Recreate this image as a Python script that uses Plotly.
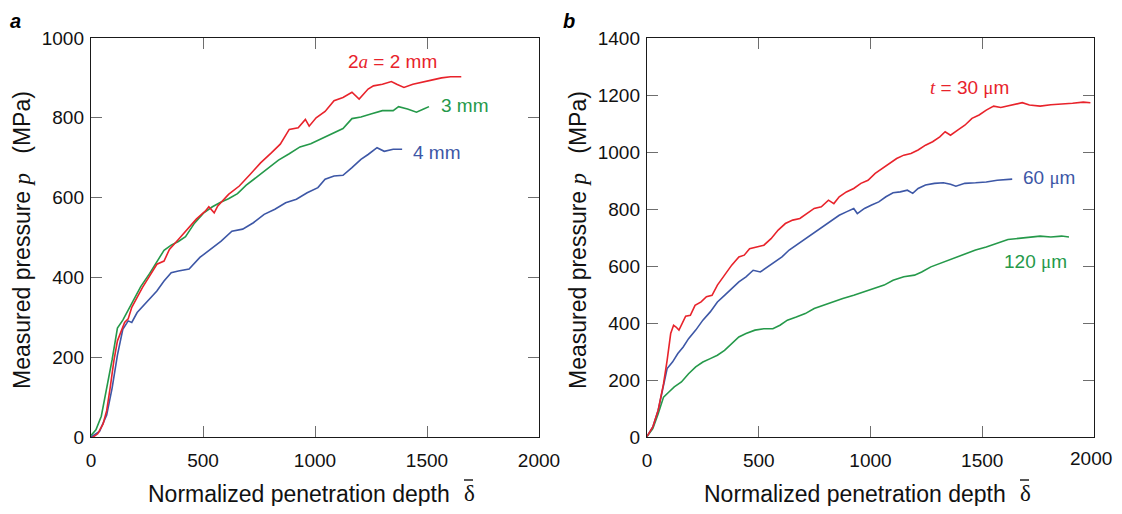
import plotly.graph_objects as go

# ---------------- Data ----------------
# Panel a: indenter diameter 2a
a2mm_x = [0, 30, 54, 70, 86, 102, 118, 134, 150, 166, 182, 206, 230, 262, 294, 326, 350, 390, 422, 470,
          510, 526, 550, 566, 614, 662, 710, 757, 805, 845, 885, 925, 957, 974, 1005, 1045, 1085, 1125,
          1165, 1197, 1237, 1261, 1301, 1341, 1365, 1397, 1437, 1485, 1525, 1565, 1605, 1653]
a2mm_y = [-4, 8, 33, 66, 125, 191, 241, 266, 287, 296, 325, 350, 375, 404, 433, 441, 470, 495, 516, 546,
          566, 577, 562, 579, 608, 629, 658, 687, 712, 734, 771, 775, 796, 779, 800, 816, 843, 851,
          864, 847, 872, 880, 884, 891, 884, 876, 884, 889, 895, 900, 903, 903]

a3mm_x = [0, 22, 46, 70, 94, 118, 142, 166, 190, 222, 262, 294, 326, 358, 390, 422, 462, 502, 542, 581,
          614, 654, 693, 741, 789, 837, 885, 933, 981, 1029, 1077, 1125, 1165, 1205, 1253, 1301, 1349,
          1373, 1413, 1453, 1485, 1509]
a3mm_y = [4, 18, 52, 118, 193, 273, 293, 318, 343, 377, 410, 439, 468, 481, 490, 502, 536, 561, 577, 589,
          597, 610, 631, 652, 673, 694, 710, 727, 735, 748, 760, 773, 798, 802, 810, 818, 818,
          828, 822, 814, 822, 828]

a4mm_x = [0, 38, 70, 94, 118, 142, 166, 182, 206, 246, 294, 326, 358, 390, 438, 486, 534, 581, 629, 677,
          725, 773, 821, 869, 917, 965, 1013, 1045, 1085, 1125, 1165, 1205, 1237, 1277, 1309, 1349, 1389]
a4mm_y = [0, 14, 55, 122, 205, 270, 291, 287, 312, 337, 366, 391, 412, 416, 421, 450, 471, 491, 516, 521,
          537, 558, 571, 587, 596, 612, 625, 646, 654, 656, 675, 696, 708, 725, 716, 721, 721]

# Panel b: film thickness t
b30_x = [0, 26, 50, 74, 90, 106, 119, 130, 143, 157, 173, 194, 215, 242, 266, 291, 315, 347, 379, 411,
         435, 459, 491, 523, 555, 587, 619, 652, 684, 716, 748, 780, 812, 836, 860, 892, 925, 957, 989,
         1021, 1053, 1085, 1117, 1149, 1181, 1213, 1246, 1278, 1310, 1334, 1358, 1390, 1422, 1454, 1486,
         1518, 1551, 1583, 1631, 1679, 1711, 1759, 1807, 1855, 1904, 1952, 1984]
b30_y = [2, 35, 94, 187, 269, 363, 392, 386, 375, 398, 424, 427, 462, 474, 492, 497, 533, 568, 603, 632,
         638, 661, 667, 673, 696, 726, 749, 761, 767, 784, 802, 808, 831, 819, 843, 860, 872, 890, 901,
         925, 942, 960, 977, 989, 995, 1007, 1024, 1036, 1053, 1071, 1059, 1077, 1094, 1118, 1130,
         1147, 1161, 1156, 1165, 1173, 1165, 1161, 1166, 1168, 1171, 1175, 1173]

b60_x = [0, 26, 50, 74, 90, 114, 138, 162, 186, 218, 250, 283, 315, 347, 379, 411, 443, 475, 507, 539,
         571, 604, 636, 668, 700, 732, 764, 796, 828, 860, 892, 925, 941, 973, 1005, 1037, 1069, 1101,
         1133, 1165, 1189, 1213, 1246, 1286, 1326, 1358, 1382, 1422, 1470, 1518, 1567, 1634]
b60_y = [2, 35, 94, 187, 240, 263, 293, 316, 345, 375, 410, 439, 474, 497, 521, 544, 562, 585, 579, 597,
         615, 632, 656, 673, 691, 708, 726, 743, 761, 778, 790, 802, 784, 802, 814, 825, 843, 857,
         860, 866, 855, 872, 884, 890, 892, 887, 880, 890, 892, 895, 901, 905]

b120_x = [0, 26, 50, 74, 98, 122, 154, 186, 218, 250, 283, 315, 347, 379, 411, 443, 483, 523, 563, 595,
          628, 668, 708, 748, 788, 828, 876, 925, 973, 1021, 1061, 1101, 1149, 1197, 1229, 1270, 1310,
          1350, 1390, 1430, 1470, 1518, 1567, 1615, 1663, 1711, 1759, 1807, 1855, 1888]
b120_y = [2, 29, 82, 140, 158, 176, 193, 222, 246, 263, 275, 287, 304, 328, 351, 363, 375, 380, 380, 392,
          410, 421, 433, 451, 462, 474, 486, 497, 509, 521, 533, 550, 562, 568, 579, 597, 609,
          620, 632, 644, 656, 667, 679, 693, 697, 700, 705, 702, 705, 702]

x_ticks = [0, 500, 1000, 1500, 2000]
x_ticktext = ["0", "500", "1000", "1500", "2000"]
xb_ticktext = ["0", "500", "1000", "1500", ""]   # last label drawn separately (page edge)
ya_ticks = [0, 200, 400, 600, 800, 1000]
yb_ticks = [0, 200, 400, 600, 800, 1000, 1200, 1400]

RED = "#e8232b"
GREEN = "#25994a"
BLUE = "#3d57a6"

SANS = "Arial, Liberation Sans, Helvetica, sans-serif"
SERIF = "Liberation Serif, Times New Roman, serif"

fig = go.Figure()

def add(x, y, color, xa, ya):
    fig.add_trace(go.Scatter(x=x, y=y, mode="lines", line=dict(color=color, width=1.6),
                             xaxis=xa, yaxis=ya, showlegend=False, hoverinfo="skip"))

add(a4mm_x, a4mm_y, BLUE, "x", "y")
add(a3mm_x, a3mm_y, GREEN, "x", "y")
add(a2mm_x, a2mm_y, RED, "x", "y")
add(b120_x, b120_y, GREEN, "x2", "y2")
add(b60_x, b60_y, BLUE, "x2", "y2")
add(b30_x, b30_y, RED, "x2", "y2")

# page has an 8px body margin -> figure is 16px smaller, positions shifted by 8px
OFF = 8
W, H = 1122 - 2 * OFF, 514 - 2 * OFF

def px(x):
    return (x - OFF) / W

def py(y):
    return 1 - (y - OFF) / H

ydom = [py(437), py(38)]

axis_common = dict(
    showgrid=False, zeroline=False, showline=True, linecolor="#1a1a1a", linewidth=1.4,
    mirror="ticks", ticks="inside", ticklen=11, tickwidth=1.4, tickcolor="#6e6e6e",
    tickfont=dict(family=SANS, size=19, color="#111"), automargin=False,
)

fig.update_layout(
    width=W, height=H,
    margin=dict(l=0, r=0, t=0, b=0, autoexpand=False),
    paper_bgcolor="white", plot_bgcolor="white",
    xaxis=dict(domain=[px(91), px(539)], range=[0, 2000], tickvals=x_ticks, ticktext=x_ticktext,
               anchor="y", ticklabelstandoff=6, **axis_common),
    yaxis=dict(domain=ydom, range=[0, 1000], tickvals=ya_ticks, anchor="x",
               ticklabelstandoff=2, **axis_common),
    xaxis2=dict(domain=[px(647), px(1094)], range=[0, 2000], tickvals=x_ticks,
                ticktext=xb_ticktext, anchor="y2", ticklabelstandoff=6, **axis_common),
    yaxis2=dict(domain=ydom, range=[0, 1400], tickvals=yb_ticks, anchor="x2",
                ticklabelstandoff=2, **axis_common),
)

xtitle = "Normalized penetration depth"
ytitle = ("Measured pressure "
          f"<span style='font-family:{SERIF}'><i>p</i></span>   (MPa)")

ann = []
shapes = []
for off in [0, 556]:
    ann.append(dict(text=xtitle, xref="paper", yref="paper", x=px(299 + off), y=py(494),
                    xanchor="center", yanchor="middle", showarrow=False,
                    font=dict(family=SANS, size=23, color="#111")))
    ann.append(dict(text="δ", xref="paper", yref="paper", x=px(469 + off), y=py(493),
                    xanchor="center", yanchor="middle", showarrow=False, borderpad=0,
                    font=dict(family=SERIF, size=23, color="#111")))
    shapes.append(dict(type="line", xref="paper", yref="paper",
                       x0=px(464 + off), x1=px(473 + off), y0=py(480), y1=py(480),
                       line=dict(color="#111", width=1.4)))
# last x tick label of panel b, kept inside the page
ann.append(dict(text=x_ticktext[-1], xref="paper", yref="paper", x=px(1113), y=py(458),
                xanchor="right", yanchor="middle", showarrow=False, borderpad=0,
                font=dict(family=SANS, size=19, color="#111")))
for cx in [22, 578]:
    ann.append(dict(text=ytitle, xref="paper", yref="paper", x=px(cx), y=py(240),
                    xanchor="center", yanchor="middle", showarrow=False, textangle=-90,
                    font=dict(family=SANS, size=23, color="#111")))
# panel letters
for lbl, cx in [("a", 15), ("b", 569)]:
    ann.append(dict(text=f"<b><i>{lbl}</i></b>", xref="paper", yref="paper", x=px(cx),
                    y=py(8.5), xanchor="center", yanchor="top", showarrow=False, borderpad=0,
                    font=dict(family=SANS, size=20, color="#000")))

# curve labels (data coordinates)
lab_font = dict(family=SANS, size=19)
ann += [
    dict(text=f"2<span style='font-family:{SERIF}'><i>a</i></span> = 2 mm", x=1348, y=940,
         xref="x", yref="y", showarrow=False, xanchor="center", yanchor="middle",
         font=dict(color=RED, **lab_font)),
    dict(text="3 mm", x=1555, y=830, xref="x", yref="y", showarrow=False,
         xanchor="left", yanchor="middle", font=dict(color=GREEN, **lab_font)),
    dict(text="4 mm", x=1430, y=714, xref="x", yref="y", showarrow=False,
         xanchor="left", yanchor="middle", font=dict(color=BLUE, **lab_font)),
    dict(text=f"<span style='font-family:{SERIF}'><i>t</i></span> = 30 <span style='font-family:{SERIF}'>μ</span>m",
         x=1445, y=1228, xref="x2", yref="y2", showarrow=False, xanchor="center",
         yanchor="middle", font=dict(color=RED, **lab_font)),
    dict(text=f"60 <span style='font-family:{SERIF}'>μ</span>m", x=1672, y=909, xref="x2", yref="y2",
         showarrow=False, xanchor="left", yanchor="middle", font=dict(color=BLUE, **lab_font)),
    dict(text=f"120 <span style='font-family:{SERIF}'>μ</span>m", x=1590, y=617, xref="x2", yref="y2",
         showarrow=False, xanchor="left", yanchor="middle", font=dict(color=GREEN, **lab_font)),
]
fig.update_layout(annotations=ann, shapes=shapes)

fig.write_html("out.html")
